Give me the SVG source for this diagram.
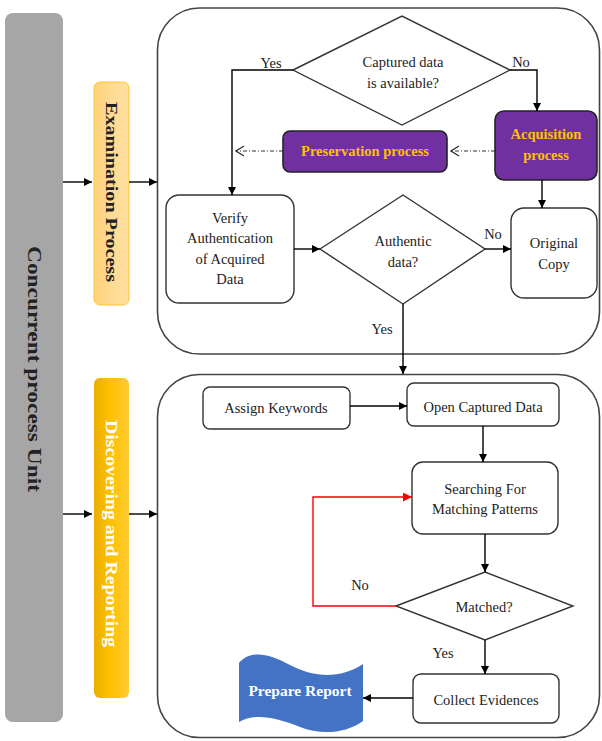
<svg xmlns="http://www.w3.org/2000/svg" width="602" height="741" viewBox="0 0 602 741">
<defs>
<marker id="ah" viewBox="0 0 10 10" refX="10" refY="5" markerWidth="9" markerHeight="8" markerUnits="userSpaceOnUse" orient="auto"><path d="M0,0 L10,5 L0,10 z" fill="#000"/></marker>
<marker id="ahr" viewBox="0 0 10 10" refX="10" refY="5" markerWidth="10" markerHeight="9" markerUnits="userSpaceOnUse" orient="auto"><path d="M0,0 L10,5 L0,10 z" fill="#f00"/></marker>
<marker id="open" viewBox="0 0 10 12" refX="9" refY="6" markerWidth="10" markerHeight="12" markerUnits="userSpaceOnUse" orient="auto"><path d="M1,1 L9,6 L1,11" fill="none" stroke="#333" stroke-width="1.3"/></marker>
<linearGradient id="gExam" x1="0" y1="0" x2="1" y2="0"><stop offset="0" stop-color="#FFD27A"/><stop offset="0.5" stop-color="#FFDA92"/><stop offset="1" stop-color="#FFDFA0"/></linearGradient>
<linearGradient id="gDisc" x1="0" y1="0" x2="1" y2="0"><stop offset="0" stop-color="#E8AE00"/><stop offset="0.45" stop-color="#FFC000"/><stop offset="1" stop-color="#FFCB33"/></linearGradient>
<style>
.box{fill:#fff;stroke:#333;stroke-width:1.4}
.cont{fill:#fff;stroke:#444;stroke-width:1.6}
.purple{fill:#7030A0;stroke:#222;stroke-width:1.6}
.dia{fill:#fff;stroke:#333;stroke-width:1.4}
.t{font-family:"Liberation Serif","Times New Roman",serif;font-size:14.5px;fill:#222;text-anchor:middle}
.tb{font-family:"Liberation Serif","Times New Roman",serif;font-weight:bold;text-anchor:middle}
.gold{fill:#FFC000;font-size:14.5px}
.c{fill:none;stroke:#000;stroke-width:1.4}
.dash{fill:none;stroke:#333;stroke-width:1.2;stroke-dasharray:4 2 1 2}
</style>
</defs>

<g id="unit">
<rect x="5" y="13" width="58" height="709" rx="8" fill="#A6A6A6"/>
<text class="tb" font-size="19" fill="#222" transform="translate(34,369) rotate(90)" y="6" textLength="246" lengthAdjust="spacingAndGlyphs">Concurrent process Unit</text>
</g>

<g id="examination">
<rect x="94" y="82" width="35" height="223" rx="6" fill="url(#gExam)" stroke="#FFC533" stroke-width="1"/>
<text class="tb" font-size="17" fill="#222" transform="translate(111.5,192) rotate(90)" y="6" textLength="180" lengthAdjust="spacingAndGlyphs">Examination Process</text>
</g>

<g id="discovering">
<rect x="94" y="378" width="35" height="320" rx="6" fill="url(#gDisc)"/>
<text class="tb" font-size="17" fill="#fff" transform="translate(111.5,533.5) rotate(90)" y="6" textLength="227" lengthAdjust="spacingAndGlyphs">Discovering and Reporting</text>
</g>

<g id="container1"><rect class="cont" x="157.5" y="8" width="442" height="346" rx="42"/></g>
<g id="container2"><rect class="cont" x="157.5" y="374.5" width="442" height="363" rx="42"/></g>

<g id="captured">
<polygon class="dia" points="293,70 402,16 510,70 402,125"/>
<text class="t" x="403" y="67">Captured data</text>
<text class="t" x="403" y="88">is available?</text>
</g>

<g id="acquisition">
<rect class="purple" x="495" y="111" width="102" height="69" rx="9"/>
<text class="tb gold" x="546" y="139">Acquisition</text>
<text class="tb gold" x="546" y="160">process</text>
</g>

<g id="preservation">
<rect class="purple" x="283" y="131" width="164" height="41" rx="7"/>
<text class="tb gold" x="365" y="156">Preservation process</text>
</g>

<g id="verify">
<rect class="box" x="166" y="195" width="128" height="108" rx="13"/>
<text class="t" x="230" y="223">Verify</text>
<text class="t" x="230" y="243">Authentication</text>
<text class="t" x="230" y="264">of Acquired</text>
<text class="t" x="230" y="284">Data</text>
</g>

<g id="authentic">
<polygon class="dia" points="320,249 403,195 485,249 403,304"/>
<text class="t" x="403" y="246">Authentic</text>
<text class="t" x="403" y="267">data?</text>
</g>

<g id="original">
<rect class="box" x="511" y="208" width="86" height="90" rx="13"/>
<text class="t" x="554" y="248">Original</text>
<text class="t" x="554" y="269">Copy</text>
</g>

<g id="assign">
<rect class="box" x="203" y="387" width="147" height="42" rx="7"/>
<text class="t" x="276" y="413">Assign Keywords</text>
</g>

<g id="open">
<rect class="box" x="407" y="383" width="152" height="43" rx="7"/>
<text class="t" x="483" y="412">Open Captured Data</text>
</g>

<g id="searching">
<rect class="box" x="412" y="462" width="146" height="72" rx="11"/>
<text class="t" x="485" y="494">Searching For</text>
<text class="t" x="485" y="514">Matching Patterns</text>
</g>

<g id="matched">
<polygon class="dia" points="396,606 485,572 573,606 485,640"/>
<text class="t" x="484" y="612">Matched?</text>
</g>

<g id="collect">
<rect class="box" x="413" y="674" width="146" height="49" rx="8"/>
<text class="t" x="486" y="705">Collect Evidences</text>
</g>

<g id="report">
<path d="M239,663 C250,650 268,653 290,665 C315,678 340,679 363,664 L363,721 C345,734 320,735 300,727 C275,717 255,713 239,722 Z" fill="#4472C4"/>
<text class="tb" font-size="15.5" fill="#fff" x="300" y="696">Prepare Report</text>
</g>

<g id="connectors">
<path class="c" d="M63,182 H92" marker-end="url(#ah)"/>
<path class="c" d="M129,182 H157" marker-end="url(#ah)"/>
<path class="c" d="M63,514 H92" marker-end="url(#ah)"/>
<path class="c" d="M129,514 H157" marker-end="url(#ah)"/>
<path class="c" d="M293,70 H232 V195" marker-end="url(#ah)"/>
<path class="c" d="M510,70 H537 V111" marker-end="url(#ah)"/>
<path class="dash" d="M495,151 H451" marker-end="url(#open)"/>
<path class="dash" d="M283,151 H236" marker-end="url(#open)"/>
<path class="c" d="M542,180 V208" marker-end="url(#ah)"/>
<path class="c" d="M294,249 H320" marker-end="url(#ah)"/>
<path class="c" d="M485,249 H511" marker-end="url(#ah)"/>
<path class="c" d="M403,304 V374" marker-end="url(#ah)"/>
<path class="c" d="M350,406 H407" marker-end="url(#ah)"/>
<path class="c" d="M483,426 V462" marker-end="url(#ah)"/>
<path class="c" d="M485,534 V572" marker-end="url(#ah)"/>
<path d="M396,606 H313 V497 H412" fill="none" stroke="#f00" stroke-width="1.4" marker-end="url(#ahr)"/>
<path class="c" d="M485,640 V674" marker-end="url(#ah)"/>
<path class="c" d="M413,698 H363" marker-end="url(#ah)"/>
<text class="t" x="271" y="68">Yes</text>
<text class="t" x="521" y="67">No</text>
<text class="t" x="493" y="239">No</text>
<text class="t" x="382" y="334">Yes</text>
<text class="t" x="360" y="590">No</text>
<text class="t" x="443" y="658">Yes</text>
</g>
</svg>
